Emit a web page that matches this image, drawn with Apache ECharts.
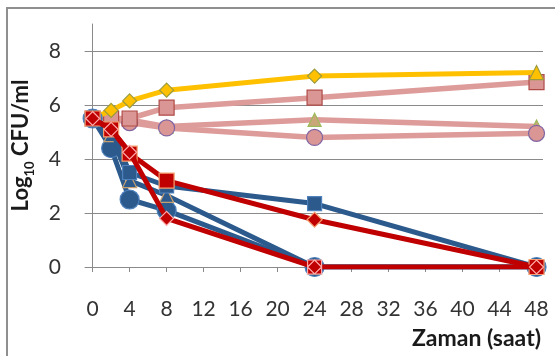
<!DOCTYPE html>
<html>
<head>
<meta charset="utf-8">
<script src="https://cdn.jsdelivr.net/npm/echarts@6/dist/echarts.min.js"></script>
<style>
  html, body { margin: 0; padding: 0; background: #fff; }
  #chart { width: 555px; height: 356px; }
</style>
</head>
<body>
<div id="chart"></div>
<script>
// Sampling times (hours)
const hours = [0, 2, 4, 8, 24, 48];
const xTicks = [0, 4, 8, 12, 16, 20, 24, 28, 32, 36, 40, 44, 48];
const yTicks = [0, 2, 4, 6, 8];

// log10 CFU/ml per culture
const pinkTriangle  = [5.5, 5.5, 5.45, 5.2, 5.45, 5.2];
const pinkCircle    = [5.5, 5.5, 5.35, 5.15, 4.8, 4.95];
const pinkSquare    = [5.5, 5.5, 5.5, 5.9, 6.27, 6.85];
const yellowDiamond = [5.5, 5.8, 6.15, 6.55, 7.07, 7.2];
const blueCircle    = [5.5, 4.4, 2.5, 2.1, 0, 0];
const blueTriangle  = [5.5, 4.9, 3.2, 2.65, 0, 0];
const blueSquare    = [5.5, 5.1, 3.5, 3.0, 2.35, 0];
const redSquare     = [5.5, 5.1, 4.2, 3.2, 1.75, 0];
const redDiamond    = [5.5, 5.1, 4.25, 1.8, 0, 0];

const pair = vals => hours.map((h, i) => [h, vals[i]]);

// marker shape: a fixed shape, with one point drawn differently
const shapeAt = (base, idx, other) => (v, p) => (p.dataIndex === idx ? other : base);
// square with a diamond outline inside it
const squareDiamond = 'path://M0,0H10V10H0Z M5,0L10,5L5,10L0,5Z';

function line(name, vals, color, width, symbol, size, fill, border, z) {
  return {
    name, type: 'line', data: pair(vals), z,
    symbol, symbolSize: size,
    lineStyle: { color, width },
    itemStyle: { color: fill, borderColor: border, borderWidth: 1.2 },
    emphasis: { disabled: true },
    animation: false
  };
}

const chart = echarts.init(document.getElementById('chart'), null, { renderer: 'canvas' });
const font = 'Lato, "Open Sans", sans-serif';

chart.setOption({
  backgroundColor: '#fff',
  animation: false,
  grid: { left: 88, right: 12, top: 24, bottom: 89 },
  graphic: [{
    type: 'rect', silent: true,
    shape: { x: 7, y: 8, width: 620, height: 420 },
    style: { fill: 'none', stroke: '#8f8f8f', lineWidth: 2 }
  }, {
    type: 'text', right: 14, top: 327, silent: true,
    style: { text: 'Zaman (saat)', font: 'bold 23px ' + font, fill: '#1a1a1a' }
  }],
  xAxis: {
    type: 'value', min: -0.5, max: 48.7,
    axisLine: { show: true, onZero: false, lineStyle: { color: '#8a8a8a', width: 1 } },
    axisTick: { show: true, length: 5, customValues: xTicks, lineStyle: { color: '#8a8a8a' } },
    axisLabel: { customValues: xTicks, margin: 32, fontSize: 21, fontFamily: font, color: '#333' },
    splitLine: { show: false }
  },
  yAxis: {
    type: 'value', min: 0, max: 9,
    name: '{b|Log}{s|10}{b| CFU/ml}',
    nameLocation: 'middle', nameRotate: 90, nameGap: 52,
    nameTextStyle: {
      rich: {
        b: { fontSize: 22, fontWeight: 'bold', fontFamily: font, color: '#1a1a1a', lineHeight: 26 },
        s: { fontSize: 13, fontWeight: 'bold', fontFamily: font, color: '#1a1a1a', lineHeight: 30, verticalAlign: 'bottom' }
      }
    },
    axisLine: { show: true, lineStyle: { color: '#8a8a8a', width: 1 } },
    axisTick: { show: true, length: 8, customValues: yTicks, lineStyle: { color: '#8a8a8a' } },
    axisLabel: { customValues: yTicks, margin: 27, fontSize: 21, fontFamily: font, color: '#333' },
    splitLine: { show: true, lineStyle: { color: '#8a8a8a', width: 1 } }
  },
  series: [
    line('pink-triangle', pinkTriangle, '#dd9c9a', 5.5, 'triangle', 13, '#c9a778', '#9bbb59', 2),
    line('pink-circle',   pinkCircle,   '#dd9c9a', 5.5, 'circle',   16, '#d99694', '#8064a2', 3),
    line('pink-square',   pinkSquare,   '#dd9c9a', 5.5, 'rect',     15, '#d99694', '#b04a47', 4),
    line('yellow',        yellowDiamond,'#ffc000', 5,   shapeAt('diamond', 5, 'triangle'), 14, '#ffc000', '#9b9b3d', 5),
    line('blue-circle',   blueCircle,   '#2c5a8c', 5,   'circle',   19, '#2c5a8c', '#4f81bd', 6),
    line('blue-triangle', blueTriangle, '#2c5a8c', 5,   'triangle', 14, '#2c5a8c', '#c8a070', 7),
    line('blue-square',   blueSquare,   '#2c5a8c', 5,   'rect',     14, '#2c5a8c', '#4f81bd', 8),
    line('red-square',    redSquare,    '#c00000', 5,   shapeAt('rect', 4, 'diamond'), 15, '#c00000', '#f5a070', 9),
    line('red-diamond',   redDiamond,   '#c00000', 5,   shapeAt('diamond', 4, squareDiamond), 14, '#c00000', '#ffaaaa', 10)
  ]
});
</script>
</body>
</html>
